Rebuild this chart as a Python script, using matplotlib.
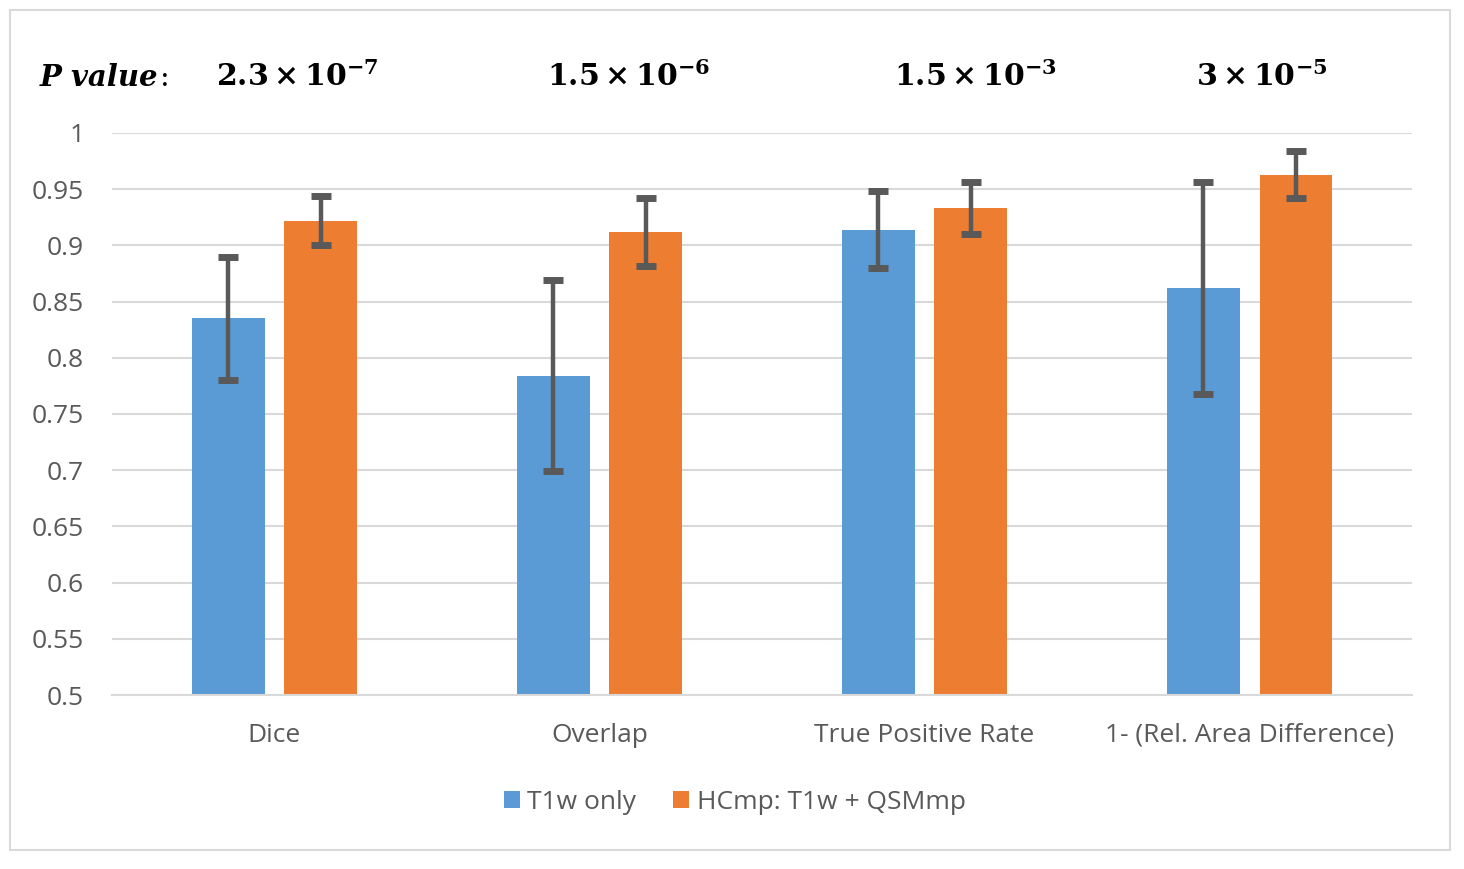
import numpy as np
import matplotlib.pyplot as plt
from matplotlib.patches import Rectangle

# data
categories = ['Dice', 'Overlap', 'True Positive Rate', '1- (Rel. Area Difference)']
t1w_mean = [0.835, 0.784, 0.914, 0.862]
t1w_err = [0.055, 0.085, 0.034, 0.094]
hcmp_mean = [0.922, 0.912, 0.933, 0.963]
hcmp_err = [0.022, 0.030, 0.023, 0.021]
series_names = ['T1w only', 'HCmp: T1w + QSMmp']
p_labels = [r'$\mathbf{2.3\times10^{-7}}$', r'$\mathbf{1.5\times10^{-6}}$',
            r'$\mathbf{1.5\times10^{-3}}$', r'$\mathbf{3\times10^{-5}}$']
yticks = np.arange(0.5, 1.0001, 0.05)

plt.rcParams['font.family'] = ['Open Sans', 'DejaVu Sans']
plt.rcParams['mathtext.fontset'] = 'dejavuserif'

blue = '#5B9BD5'
orange = '#ED7D31'
grey = '#595959'
light = '#D9D9D9'

fig = plt.figure(figsize=(14.64, 8.69), dpi=100)
ax = fig.add_axes([0.0765, 0.2002, 0.888, 0.6468])

x = np.arange(len(categories))
w = 0.2246
off = 0.143
ekw = dict(ecolor=grey, elinewidth=3.2, capsize=7, capthick=5)
ax.bar(x - off, t1w_mean, w, color=blue, label=series_names[0], zorder=2)
ax.bar(x + off, hcmp_mean, w, color=orange, label=series_names[1], zorder=2)
ax.errorbar(x - off, t1w_mean, yerr=t1w_err, fmt='none', zorder=3, **ekw)
ax.errorbar(x + off, hcmp_mean, yerr=hcmp_err, fmt='none', zorder=3, **ekw)

ax.set_ylim(0.5, 1.0)
ax.set_xlim(-0.5, len(categories) - 0.5)
ax.set_yticks(yticks)
ax.set_yticklabels(['%g' % round(v, 2) for v in yticks])
ax.set_xticks(x)
ax.set_xticklabels(categories)
ax.tick_params(axis='both', length=0, labelsize=19, labelcolor=grey)
ax.tick_params(axis='y', pad=20)
ax.tick_params(axis='x', pad=20)
ax.grid(axis='y', color=light, linewidth=1.5, zorder=0)
ax.set_axisbelow(True)
for s in ['top', 'right', 'left']:
    ax.spines[s].set_visible(False)
ax.spines['bottom'].set_color(light)
ax.spines['bottom'].set_linewidth(1.5)

leg = fig.legend(loc='center', bbox_to_anchor=(0.502, 0.077), ncol=2, frameon=False,
                 fontsize=19, handlelength=0.6, handleheight=0.6, handletextpad=0.3,
                 columnspacing=1.4)
for t in leg.get_texts():
    t.set_color(grey)

# p values above the groups
ty = 1 - 78 / 869
fig.text(40 / 1464, ty, 'P value', family='DejaVu Serif', style='italic',
         weight='bold', fontsize=21, va='center', ha='left')
fig.text(160 / 1464, ty, ':', family='DejaVu Serif', fontsize=21,
         va='center', ha='left')
p_xpos = [297, 629, 975, 1262]
for px, lab in zip(p_xpos, p_labels):
    fig.text(px / 1464, ty, lab, fontsize=21.5, ha='center', va='center')

fig.patches.append(Rectangle((10 / 1464, 1 - 850 / 869), 1440 / 1464, 840 / 869,
                             transform=fig.transFigure, fill=False,
                             edgecolor=light, linewidth=1.5))

fig.savefig('out.png', dpi=100)
